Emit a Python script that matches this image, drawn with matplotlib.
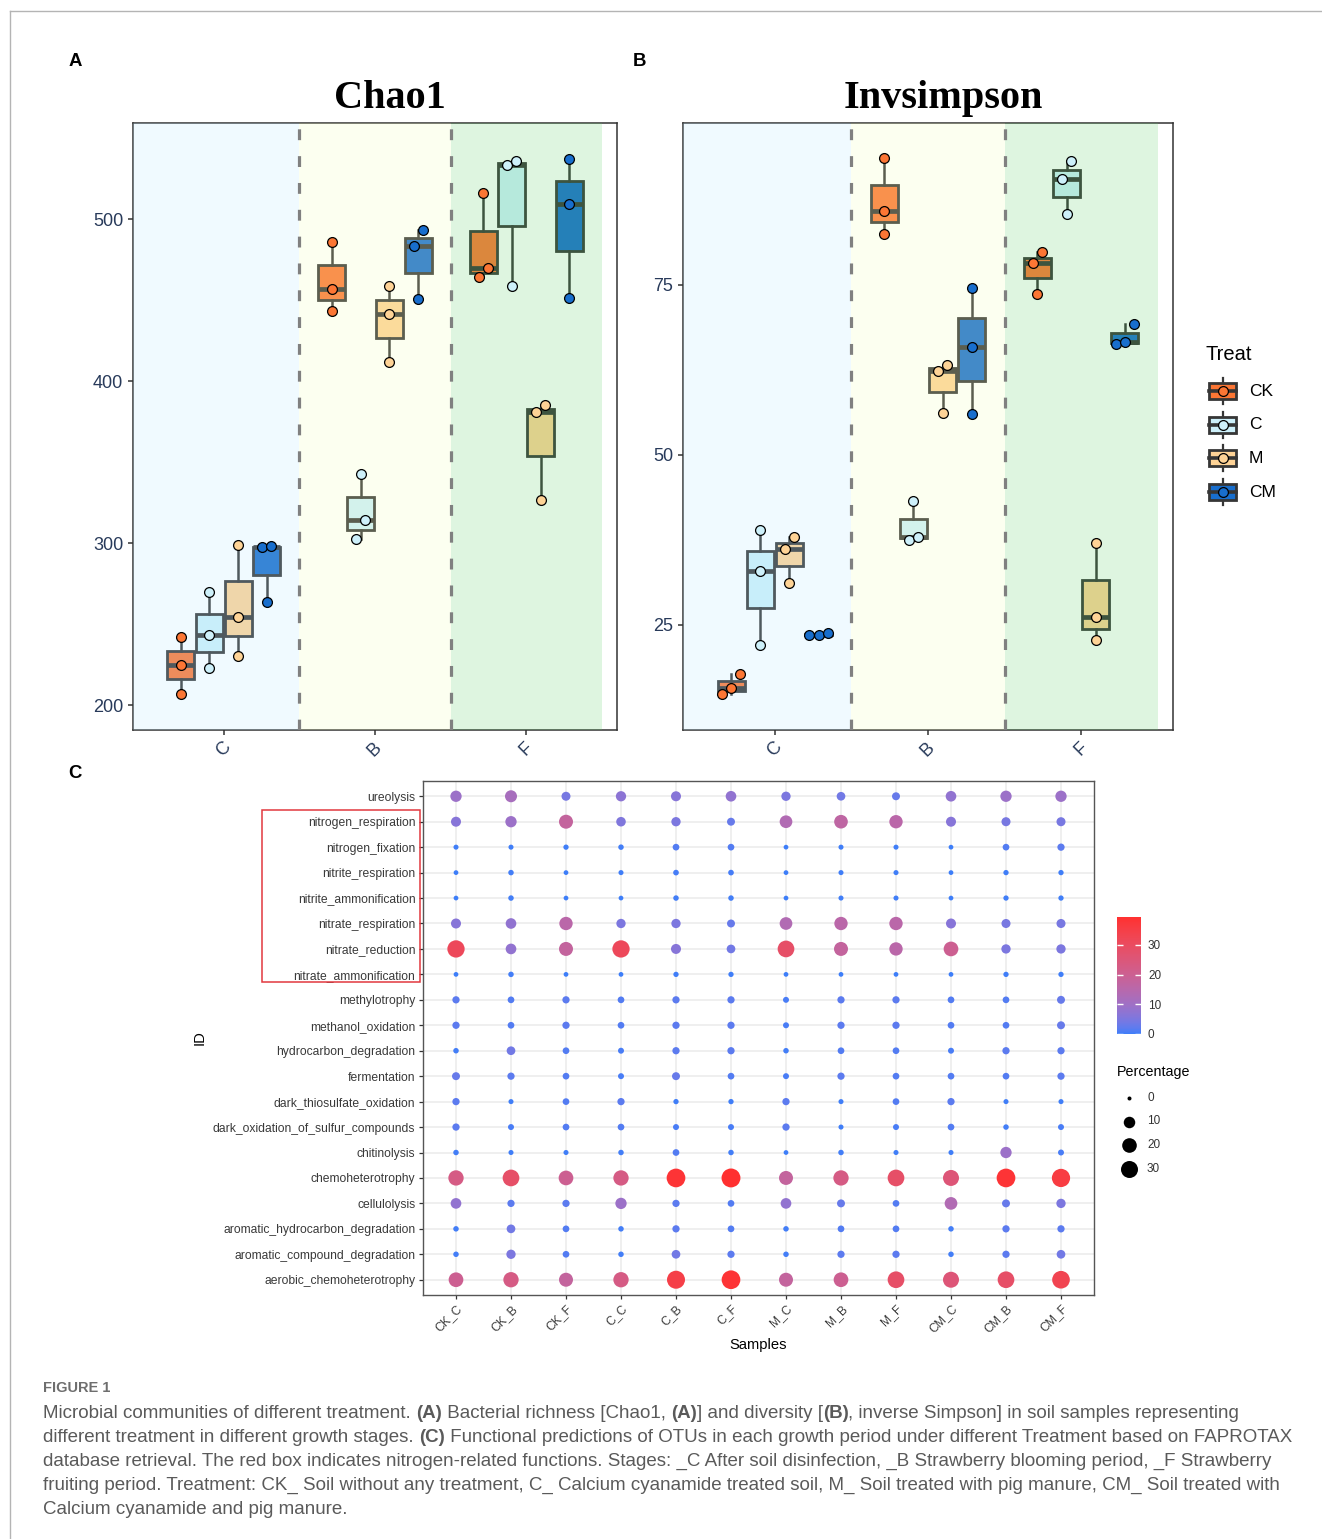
import numpy as np
import matplotlib
matplotlib.use("Agg")
import matplotlib.pyplot as plt
from matplotlib.colors import Normalize, ListedColormap, to_rgb
from matplotlib.patches import Rectangle
from matplotlib.cm import ScalarMappable
from matplotlib import font_manager

plt.rcParams["font.family"] = ["Liberation Sans", "DejaVu Sans"]

W, H, DPI = 1322, 1539, 100

# ---------------- data: alpha diversity (3 replicates per box) ----------------
stages = ["C", "B", "F"]
treats = ["CK", "C", "M", "CM"]
treat_colors = ["#FC7634", "#CDF0FA", "#FED396", "#186ECD"]
stage_colors = ["#B4E6FF", "#F0FFB4", "#5ACD64"]

chao1 = {
    "CK": [[207, 225, 242], [443, 457, 486], [464.5, 469.5, 516]],
    "C":  [[223, 243, 269.5], [302.5, 314, 342.5], [458.5, 533.5, 536]],
    "M":  [[230.5, 254.5, 298.5], [411.5, 441.5, 458.5], [326.5, 381, 385]],
    "CM": [[263.5, 297.5, 298], [450.5, 483.5, 493], [451.5, 509.5, 537]],
}
invsimpson = {
    "CK": [[14.9, 15.8, 17.8], [82.5, 85.9, 93.6], [73.7, 78.2, 79.8]],
    "C":  [[22.0, 32.9, 38.9], [37.5, 38.0, 43.2], [85.4, 90.5, 93.2]],
    "M":  [[31.1, 36.1, 37.9], [56.1, 62.3, 63.2], [22.8, 26.1, 37.0]],
    "CM": [[23.5, 23.6, 23.8], [56.0, 65.8, 74.5], [66.3, 66.6, 69.3]],
}

# ---------------- data: FAPROTAX functional predictions (%) ----------------
samples = ["CK_C", "CK_B", "CK_F", "C_C", "C_B", "C_F",
           "M_C", "M_B", "M_F", "CM_C", "CM_B", "CM_F"]
functions = [
    "ureolysis", "nitrogen_respiration", "nitrogen_fixation", "nitrite_respiration",
    "nitrite_ammonification", "nitrate_respiration", "nitrate_reduction",
    "nitrate_ammonification", "methylotrophy", "methanol_oxidation",
    "hydrocarbon_degradation", "fermentation", "dark_thiosulfate_oxidation",
    "dark_oxidation_of_sulfur_compounds", "chitinolysis", "chemoheterotrophy",
    "cellulolysis", "aromatic_hydrocarbon_degradation",
    "aromatic_compound_degradation", "aerobic_chemoheterotrophy",
]
percentage = [
    [9.5, 11.4, 4.4, 7.0, 6.4, 7.8, 5.0, 3.9, 2.8, 7.8, 9.5, 9.5],
    [6.4, 9.5, 17.7, 5.5, 5.0, 2.8, 13.4, 16.5, 15.5, 6.4, 4.5, 4.5],
    [0.2, 0.2, 0.3, 0.4, 1.3, 1.3, 0.1, 0.2, 0.2, 0.1, 1.3, 1.9],
    [0.1, 0.4, 0.1, 0.2, 0.5, 0.5, 0.1, 0.2, 0.2, 0.1, 0.3, 0.3],
    [0.1, 0.4, 0.1, 0.1, 0.4, 0.4, 0.1, 0.2, 0.2, 0.1, 0.3, 0.3],
    [6.4, 7.8, 15.5, 5.0, 5.0, 2.8, 13.4, 15.5, 15.5, 6.4, 4.5, 4.5],
    [31.3, 7.9, 17.7, 31.3, 6.4, 3.9, 28.6, 17.7, 15.5, 20.3, 5.0, 5.0],
    [0.1, 0.4, 0.1, 0.1, 0.3, 0.3, 0.1, 0.1, 0.1, 0.1, 0.3, 0.3],
    [1.9, 1.3, 1.9, 1.3, 1.9, 1.9, 0.7, 1.9, 1.9, 1.3, 1.3, 2.8],
    [1.9, 1.3, 1.9, 1.3, 1.9, 1.9, 0.7, 1.9, 1.9, 1.3, 1.3, 2.8],
    [0.4, 3.9, 1.3, 0.7, 1.9, 1.9, 0.4, 1.3, 1.3, 0.7, 1.9, 1.9],
    [2.8, 1.9, 1.3, 0.7, 2.8, 1.3, 0.7, 1.9, 1.3, 1.3, 1.3, 1.9],
    [1.9, 0.2, 1.3, 1.9, 0.3, 0.3, 1.9, 0.2, 1.3, 1.9, 0.2, 0.2],
    [1.9, 0.7, 1.3, 1.3, 0.7, 0.7, 1.9, 0.2, 0.7, 1.3, 0.4, 0.7],
    [0.4, 0.2, 0.2, 0.4, 1.3, 0.4, 0.1, 0.4, 0.2, 0.2, 9.5, 0.7],
    [22.7, 28.6, 20.3, 22.7, 38.3, 39.4, 17.7, 22.7, 28.6, 25.5, 38.3, 36.0],
    [7.9, 1.9, 1.9, 9.5, 1.9, 1.3, 7.9, 2.8, 1.3, 13.4, 2.8, 5.0],
    [0.4, 3.9, 1.3, 0.4, 1.9, 1.3, 0.4, 1.3, 1.3, 0.4, 1.9, 1.9],
    [0.4, 5.0, 1.3, 0.4, 3.9, 1.9, 0.4, 1.9, 1.9, 0.4, 1.9, 3.9],
    [20.3, 22.7, 17.7, 22.7, 34.8, 38.3, 17.7, 20.3, 28.6, 25.5, 28.6, 33.0],
]
size_breaks = [0, 10, 20, 30]
colour_breaks = [0, 10, 20, 30]

caption_lines = [
    [("Microbial communities of different treatment. ", False), ("(A)", True),
     (" Bacterial richness [Chao1, ", False), ("(A)", True), ("] and diversity [", False),
     ("(B)", True), (", inverse Simpson] in soil samples representing", False)],
    [("different treatment in different growth stages. ", False), ("(C)", True),
     (" Functional predictions of OTUs in each growth period under different Treatment based on FAPROTAX", False)],
    [("database retrieval. The red box indicates nitrogen-related functions. Stages: _C After soil disinfection, _B Strawberry blooming period, _F Strawberry", False)],
    [("fruiting period. Treatment: CK_ Soil without any treatment, C_ Calcium cyanamide treated soil, M_ Soil treated with pig manure, CM_ Soil treated with", False)],
    [("Calcium cyanamide and pig manure.", False)],
]


# ---------------- helpers ----------------
def px_rect(x0, y0, x1, y1):
    """Axes rectangle from pixel corners (origin top-left)."""
    return [x0 / W, 1 - y1 / H, (x1 - x0) / W, (y1 - y0) / H]


_M = np.array([[0.4124564, 0.3575761, 0.1804375],
               [0.2126729, 0.7151522, 0.0721750],
               [0.0193339, 0.1191920, 0.9503041]])
_WHITE = np.array([0.95047, 1.0, 1.08883])


def srgb_to_lab(rgb):
    rgb = np.asarray(rgb, float)
    lin = np.where(rgb <= 0.04045, rgb / 12.92, ((rgb + 0.055) / 1.055) ** 2.4)
    xyz = lin @ _M.T / _WHITE
    f = np.where(xyz > 0.008856, np.cbrt(xyz), 7.787 * xyz + 16 / 116)
    return np.stack([116 * f[..., 1] - 16, 500 * (f[..., 0] - f[..., 1]),
                     200 * (f[..., 1] - f[..., 2])], -1)


def lab_to_srgb(lab):
    fy = (lab[..., 0] + 16) / 116
    f = np.stack([fy + lab[..., 1] / 500, fy, fy - lab[..., 2] / 200], -1)
    xyz = np.where(f ** 3 > 0.008856, f ** 3, (f - 16 / 116) / 7.787) * _WHITE
    lin = np.clip(xyz @ np.linalg.inv(_M).T, 0, 1)
    return np.clip(np.where(lin <= 0.0031308, 12.92 * lin,
                            1.055 * lin ** (1 / 2.4) - 0.055), 0, 1)


def lab_gradient(low, high, n=256):
    a, b = srgb_to_lab(to_rgb(low)), srgb_to_lab(to_rgb(high))
    t = np.linspace(0, 1, n)[:, None]
    return ListedColormap(lab_to_srgb(a + (b - a) * t))


def spread(vals, span):
    """Side-by-side offsets for replicate points that nearly coincide."""
    off = np.zeros(len(vals))
    close = np.abs(np.diff(vals)) < 0.032 * span
    if close.all():
        off[:] = [-0.06, 0.0, 0.06]
    elif close[0]:
        off[0], off[1] = -0.03, 0.03
    elif close[1]:
        off[1], off[2] = -0.03, 0.03
    return off


fig = plt.figure(figsize=(W / DPI, H / DPI), dpi=DPI)

EDGE = "#363636"
TICKCOL = "#283A5A"
dodge = [-0.285, -0.095, 0.095, 0.285]


def box_panel(rect, data, ylim, yticks):
    ax = fig.add_axes(rect)
    ax.set_xlim(0.4, 3.6)
    ax.set_ylim(*ylim)
    for ti, t in enumerate(treats):
        ax.boxplot(data[t], positions=np.arange(1, 4) + dodge[ti], widths=0.178,
                   whis=(0, 100), patch_artist=True, showcaps=False, showfliers=False,
                   manage_ticks=False, zorder=2,
                   boxprops=dict(facecolor=treat_colors[ti], edgecolor=EDGE, linewidth=2.0),
                   medianprops=dict(color=EDGE, linewidth=3.4),
                   whiskerprops=dict(color=EDGE, linewidth=1.8))
    edges = [0.4, 1.5, 2.5, 3.5]
    for k in range(3):
        ax.axvspan(edges[k], edges[k + 1], color=stage_colors[k], alpha=0.2, lw=0, zorder=3)
    for xv in (1.5, 2.5):
        ax.axvline(xv, color="#808080", lw=2.3, ls=(0, (3.4, 5.0)), zorder=4)
    span = ylim[1] - ylim[0]
    for ti, t in enumerate(treats):
        for si in range(3):
            vals = np.sort(np.asarray(data[t][si], float))
            ax.scatter(si + 1 + dodge[ti] + spread(vals, span), vals, s=50,
                       color=treat_colors[ti], edgecolor="black", linewidth=0.9, zorder=5)
    ax.set_xticks([1, 2, 3])
    ax.set_xticklabels(stages, rotation=45, ha="center", va="top")
    ax.set_yticks(yticks)
    ax.tick_params(axis="both", labelsize=13, labelcolor=TICKCOL, color="#333333",
                   length=3.5, width=1.1)
    ax.tick_params(axis="x", pad=3)
    for sp in ax.spines.values():
        sp.set_color("#333333")
        sp.set_linewidth(1.1)
    return ax


box_panel(px_rect(133, 123, 617, 730), chao1, (184.6, 559.3), [200, 300, 400, 500])
box_panel(px_rect(683, 123, 1173, 730), invsimpson, (9.56, 98.8), [25, 50, 75])

# ---------------- panel C: bubble plot ----------------
pct = np.asarray(percentage, float)
vmax = pct.max()
cmap = lab_gradient("#3D7EF9", "#FF3030")
norm = Normalize(0, vmax)


def dot_area(v):
    d_px = 4.0 + 14.9 * np.sqrt(np.clip(v, 0, None) / vmax)
    return (d_px * 72.0 / DPI) ** 2


axc = fig.add_axes(px_rect(423, 781, 1094, 1295))
nrow, ncol = pct.shape
xx, yy = np.meshgrid(np.arange(1, ncol + 1), nrow - np.arange(nrow))
axc.set_xlim(0.4, ncol + 0.6)
axc.set_ylim(0.4, nrow + 0.6)
axc.set_axisbelow(True)
axc.grid(True, color="#EBEBEB", lw=1.1)
axc.scatter(xx.ravel(), yy.ravel(), s=dot_area(pct.ravel()), c=pct.ravel(),
            cmap=cmap, norm=norm, linewidths=0, zorder=3)
axc.set_xticks(np.arange(1, ncol + 1))
axc.set_xticklabels(samples, rotation=45, ha="right", va="top", rotation_mode="anchor")
axc.set_yticks(nrow - np.arange(nrow))
axc.set_yticklabels(functions)
axc.tick_params(axis="both", labelsize=8.7, labelcolor="#3A3A3A", color="#333333",
                length=3, width=0.9, pad=2.5)
for sp in axc.spines.values():
    sp.set_color("#555555")
    sp.set_linewidth(1.0)
axc.set_xlabel("Samples", fontsize=10.6, color="black")
axc.set_ylabel("ID", fontsize=10.6, color="black")
axc.xaxis.set_label_coords(0.5, -(1345 - 1295) / 514, transform=axc.transAxes)
axc.yaxis.set_label_coords((200 - 423) / 671, 0.5, transform=axc.transAxes)
axc.xaxis.label.set_va("center")
axc.yaxis.label.set_va("center")

# colour bar
cax = fig.add_axes(px_rect(1117, 917, 1141, 1034))
cb = fig.colorbar(ScalarMappable(norm=norm, cmap=cmap), cax=cax, ticks=colour_breaks)
cb.outline.set_visible(False)
cax.yaxis.set_ticks_position("both")
cax.tick_params(direction="in", color="white", length=4, width=1,
                labelleft=False, labelright=True, labelsize=8.5, labelcolor="#333333", pad=5)

# ---------------- overlay in pixel coordinates ----------------
ov = fig.add_axes([0, 0, 1, 1], zorder=20)
ov.set_xlim(0, W)
ov.set_ylim(H, 0)
ov.axis("off")
ov.patch.set_alpha(0)

# outer frame
ov.plot([10, W], [11, 11], color="#B4B4B4", lw=1.0)
ov.plot([10, 10], [11, H], color="#B4B4B4", lw=1.0)

# panel titles and letters
ov.text(390, 108, "Chao1", fontsize=29, fontweight="bold", family="Liberation Serif",
        ha="center", va="baseline")
ov.text(943, 108, "Invsimpson", fontsize=29, fontweight="bold", family="Liberation Serif",
        ha="center", va="baseline")
for lab, (x, y) in zip("ABC", [(75, 61), (639, 61), (75, 773)]):
    ov.text(x, y, lab, fontsize=13.4, fontweight="bold", ha="center", va="center")

# nitrogen box
ov.add_patch(Rectangle((262, 810), 158, 172, fill=False, edgecolor="#E2383E", lw=1.1))

# Treat legend
ov.text(1206, 354, "Treat", fontsize=14.5, ha="left", va="center")
for i, (t, col) in enumerate(zip(treats, treat_colors)):
    cy = 391 + i * 33.7
    ov.plot([1222.5, 1222.5], [cy - 13, cy + 13], color=EDGE, lw=1.6, zorder=1)
    ov.add_patch(Rectangle((1209, cy - 8), 27, 16, facecolor=col, edgecolor=EDGE,
                           lw=2.0, zorder=2))
    ov.plot([1209, 1236], [cy, cy], color=EDGE, lw=2.6, zorder=3)
    ov.scatter([1222.5], [cy], s=50, color=col, edgecolor="black", linewidth=0.9, zorder=4)
    ov.text(1249, cy, t, fontsize=12.5, ha="left", va="center")

# Percentage size legend
ov.text(1117, 1072, "Percentage", fontsize=10.3, ha="left", va="center")
for i, v in enumerate(size_breaks):
    cy = 1098 + i * 23.5
    ov.scatter([1129], [cy], s=dot_area(v), color="black", linewidths=0)
    ov.text(1147, cy, str(v), fontsize=8.5, color="#333333", ha="left", va="center")


# caption
def has_font(name):
    try:
        font_manager.findfont(font_manager.FontProperties(family=name),
                              fallback_to_default=False)
        return True
    except Exception:
        return False


cap_family = "Liberation Sans Narrow" if has_font("Liberation Sans Narrow") else "Liberation Sans"
renderer = fig.canvas.get_renderer()


def line_width(runs, size):
    total = 0.0
    for txt, bold in runs:
        t = fig.text(0, 0, txt, fontsize=size, family=cap_family,
                     fontweight="bold" if bold else "normal")
        total += t.get_window_extent(renderer).width
        t.remove()
    return total


cap_size = 12.0 * (1298 - 43) / line_width(caption_lines[1], 12.0)
ov.text(43, 1388, "FIGURE 1", fontsize=cap_size * 0.78, fontweight="bold",
        family=cap_family, color="#6E6E6E", ha="left", va="center")
for li, runs in enumerate(caption_lines):
    x = 43.0
    y = 1418 + li * 24
    for txt, bold in runs:
        t = ov.text(x, y, txt, fontsize=cap_size, family=cap_family, color="#5A5A5A",
                    fontweight="bold" if bold else "normal", ha="left", va="baseline")
        x += t.get_window_extent(renderer).width

fig.savefig("out.png", dpi=DPI)
